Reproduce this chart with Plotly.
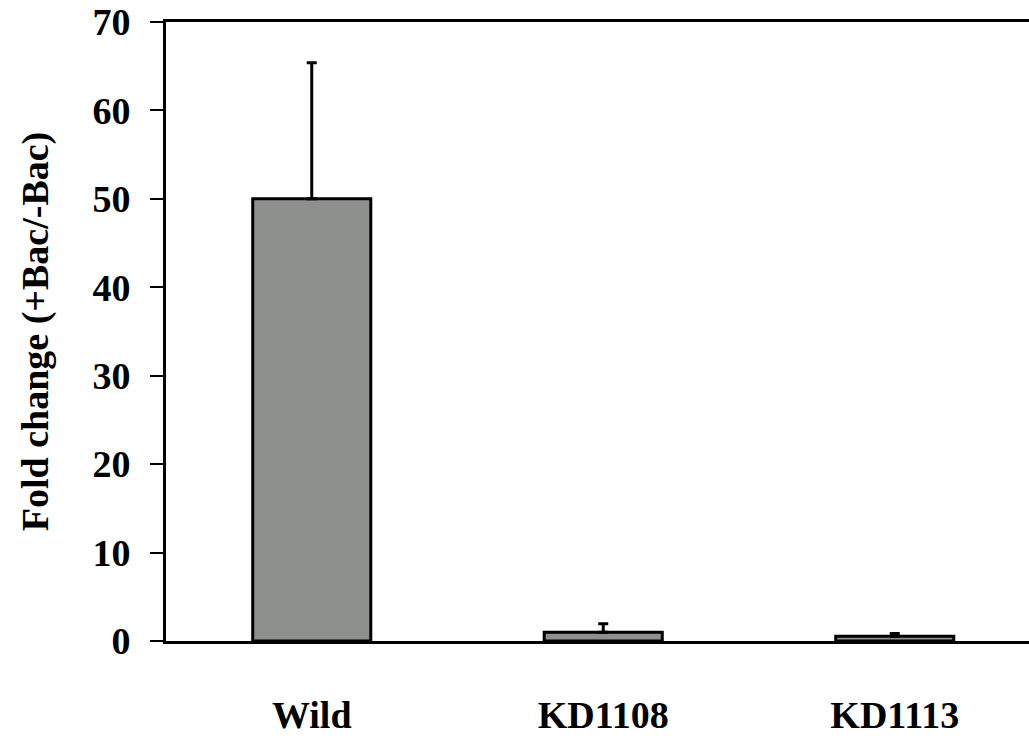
import plotly.graph_objects as go

categories = ["Wild", "KD1108", "KD1113"]
fold_change = [50.0, 1.0, 0.55]
error_up = [15.4, 0.95, 0.3]
error_down = [0, 0, 0]
y_ticks = [0, 10, 20, 30, 40, 50, 60, 70]

FONT = "Liberation Serif"

fig = go.Figure(
    go.Bar(
        x=categories,
        y=fold_change,
        width=0.405,
        marker=dict(color="#8e908e", line=dict(color="black", width=3)),
        error_y=dict(
            type="data",
            symmetric=False,
            array=error_up,
            arrayminus=error_down,
            color="black",
            thickness=3,
            width=5,
        ),
    )
)

fig.update_layout(
    width=1029,
    height=738,
    margin=dict(l=166, r=0, t=22, b=97),
    plot_bgcolor="white",
    paper_bgcolor="white",
    showlegend=False,
    font=dict(family=FONT, size=38, color="black"),
    xaxis=dict(
        type="category",
        range=[-0.5, 2.4606],
        showline=True,
        linecolor="black",
        linewidth=3,
        mirror=True,
        ticks="",
        showgrid=False,
        tickfont=dict(family=FONT, size=38, color="black", weight="bold"),
        ticklabelstandoff=38,
        automargin=False,
    ),
    yaxis=dict(
        range=[0, 70],
        tickvals=y_ticks,
        ticktext=[str(v) for v in y_ticks],
        showline=True,
        linecolor="black",
        linewidth=3,
        mirror=False,
        ticks="outside",
        ticklen=13,
        tickwidth=2,
        tickcolor="black",
        showgrid=False,
        zeroline=False,
        tickfont=dict(family=FONT, size=38, color="black", weight="bold"),
        ticklabelstandoff=12,
        title=dict(
            text="Fold change (+Bac/-Bac)",
            font=dict(family=FONT, size=38, color="black", weight="bold"),
            standoff=33,
        ),
        automargin=False,
    ),
)

fig.write_html("out.html")
